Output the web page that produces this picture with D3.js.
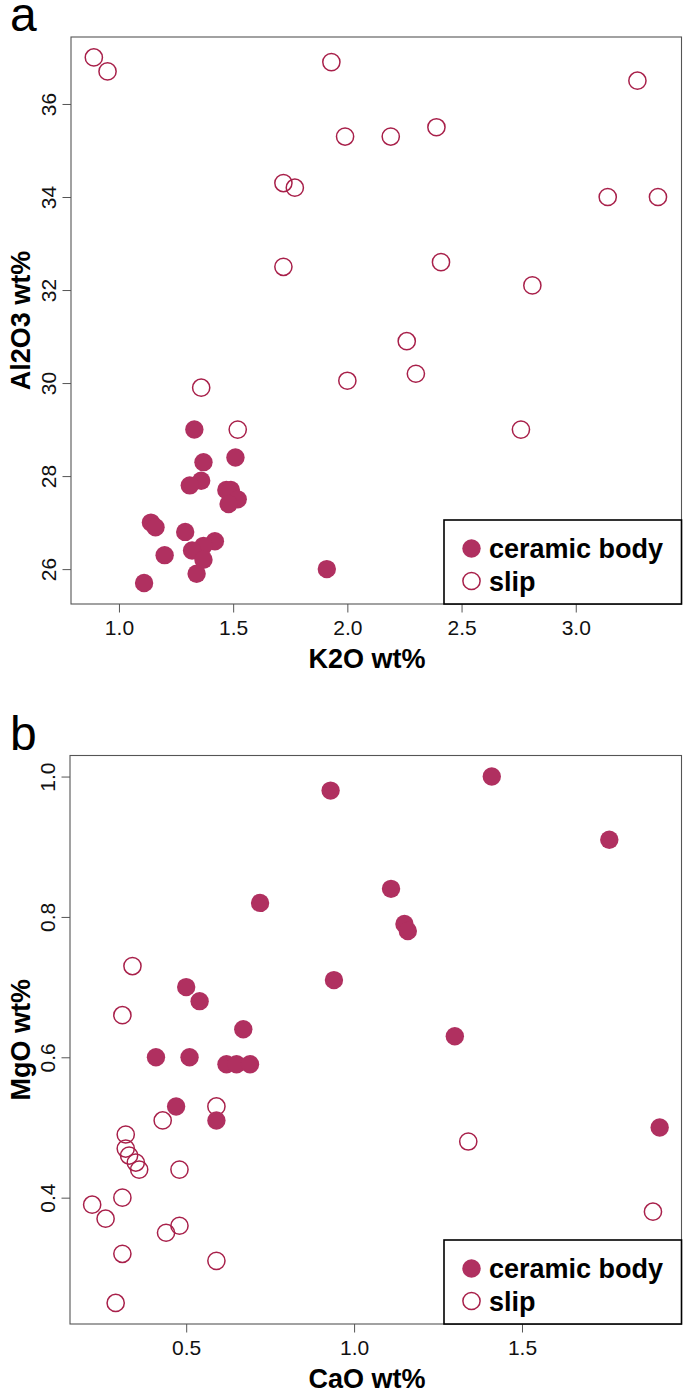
<!DOCTYPE html>
<html><head><meta charset="utf-8">
<script src="https://cdn.jsdelivr.net/npm/d3@7"></script>
<style>body{margin:0;background:#fff}svg{display:block}text{font-family:"Liberation Sans",Arial,Helvetica,sans-serif}</style>
</head><body>
<svg id="c" width="685" height="1394"></svg>
<script>
// Panel a: K2O vs Al2O3
const aBodyK2O = [1.33,1.51,1.37,1.36,1.31,1.47,1.49,1.52,1.48,1.14,1.16,1.29,1.42,1.37,1.32,1.37,1.20,1.34,1.11,1.91];
const aBodyAl2O3 = [29.0,28.4,28.3,27.9,27.8,27.7,27.7,27.5,27.4,27.0,26.9,26.8,26.6,26.5,26.4,26.2,26.3,25.9,25.7,26.0];
const aSlipK2O = [0.89,0.95,1.93,3.27,1.99,2.19,2.39,1.72,1.77,3.14,3.36,1.72,2.41,2.81,2.26,2.30,2.00,1.36,1.52,2.76];
const aSlipAl2O3 = [37.0,36.7,36.9,36.5,35.3,35.3,35.5,34.3,34.2,34.0,34.0,32.5,32.6,32.1,30.9,30.2,30.05,29.9,29.0,29.0];
const aXTicks = [1.0,1.5,2.0,2.5,3.0];
const aYTicks = [26,28,30,32,34,36];
// Panel b: CaO vs MgO
const bBodyCaO = [0.93,0.72,0.50,0.54,0.94,1.41,1.76,1.11,1.15,1.16,0.67,0.41,0.51,0.62,0.65,0.69,0.47,0.59,1.30,1.91];
const bBodyMgO = [0.98,0.82,0.70,0.68,0.71,1.00,0.91,0.84,0.79,0.78,0.64,0.60,0.60,0.59,0.59,0.59,0.53,0.51,0.63,0.50];
const bSlipCaO = [0.34,0.31,0.59,0.43,0.32,0.32,0.33,0.35,0.36,0.48,0.31,0.22,0.26,0.48,0.44,0.31,0.59,0.29,1.34,1.89];
const bSlipMgO = [0.73,0.66,0.53,0.51,0.49,0.47,0.46,0.45,0.44,0.44,0.40,0.39,0.37,0.36,0.35,0.32,0.31,0.25,0.48,0.38];
const bXTicks = [0.5,1.0,1.5];
const bYTicks = [0.4,0.6,0.8,1.0];
const legendLabels = ["ceramic body","slip"];

const FILL = "#B03060", RING = "#A8204A";
const svg = d3.select("#c");

function panel(o){
  const g = svg.append("g");
  const x = d3.scaleLinear().domain(o.xd).range([o.left,o.right]);
  const y = d3.scaleLinear().domain(o.yd).range([o.bottom,o.top]);
  const gx = g.append("g").attr("transform",`translate(0,${o.bottom})`)
    .call(d3.axisBottom(x).tickValues(o.xt).tickFormat(d3.format(".1f")).tickSize(8.5).tickSizeOuter(0));
  gx.select(".domain").remove();
  gx.selectAll("line").attr("stroke","#555");
  gx.selectAll("text").attr("y",31).attr("dy",0).attr("font-size",21).attr("fill","#111");
  const gy = g.append("g").attr("transform",`translate(${o.left},0)`)
    .call(d3.axisLeft(y).tickValues(o.yt).tickFormat(o.yf).tickSize(8.5).tickSizeOuter(0));
  gy.select(".domain").remove();
  gy.selectAll("line").attr("stroke","#555");
  gy.selectAll("text").attr("transform","rotate(-90)").attr("x",0).attr("y",-15).attr("dy",0)
    .attr("text-anchor","middle").attr("font-size",21).attr("fill","#111");
  g.append("rect").attr("x",o.left).attr("y",o.top).attr("width",o.right-o.left).attr("height",o.bottom-o.top)
    .attr("fill","none").attr("stroke","#555").attr("stroke-width",1.1);
  g.append("text").attr("x",367).attr("y",o.bottom+64).attr("text-anchor","middle")
    .attr("font-size",27).attr("font-weight","bold").text(o.xlab);
  g.append("text").attr("transform",`translate(30,${(o.top+o.bottom)/2}) rotate(-90)`).attr("text-anchor","middle")
    .attr("font-size",27).attr("font-weight","bold").text(o.ylab);
  g.append("text").attr("x",10).attr("y",o.top-6).attr("font-size",48).text(o.tag);
  g.append("g").selectAll("circle").data(o.sx.map((v,i)=>[v,o.sy[i]])).join("circle")
    .attr("cx",d=>x(d[0])).attr("cy",d=>y(d[1])).attr("r",8.6)
    .attr("fill","none").attr("stroke",RING).attr("stroke-width",1.5);
  g.append("g").selectAll("circle").data(o.bx.map((v,i)=>[v,o.by[i]])).join("circle")
    .attr("cx",d=>x(d[0])).attr("cy",d=>y(d[1])).attr("r",9.2).attr("fill",FILL);
  const lt = o.bottom-84;
  g.append("rect").attr("x",444).attr("y",lt).attr("width",o.right-444).attr("height",o.bottom-lt)
    .attr("fill","#fff").attr("stroke","#000").attr("stroke-width",1.6);
  const rows = [o.bottom-55.5, o.bottom-23];
  g.append("circle").attr("cx",471.5).attr("cy",rows[0]).attr("r",9.2).attr("fill",FILL);
  g.append("circle").attr("cx",471.5).attr("cy",rows[1]).attr("r",8.6).attr("fill","none").attr("stroke",RING).attr("stroke-width",1.5);
  legendLabels.forEach((t,i)=>{
    g.append("text").attr("x",489).attr("y",rows[i]).attr("dy","0.36em")
      .attr("font-size",27).attr("font-weight","bold").text(t);
  });
}

panel({left:71,right:681.5,top:37,bottom:604,xd:[0.79,3.463],yd:[25.25,37.44],xt:aXTicks,yt:aYTicks,yf:d3.format("d"),
  xlab:"K2O wt%",ylab:"Al2O3 wt%",tag:"a",bx:aBodyK2O,by:aBodyAl2O3,sx:aSlipK2O,sy:aSlipAl2O3});
panel({left:70,right:681.5,top:755.5,bottom:1324,xd:[0.154,1.975],yd:[0.22,1.03],xt:bXTicks,yt:bYTicks,yf:d3.format(".1f"),
  xlab:"CaO wt%",ylab:"MgO wt%",tag:"b",bx:bBodyCaO,by:bBodyMgO,sx:bSlipCaO,sy:bSlipMgO});
</script>
</body></html>
